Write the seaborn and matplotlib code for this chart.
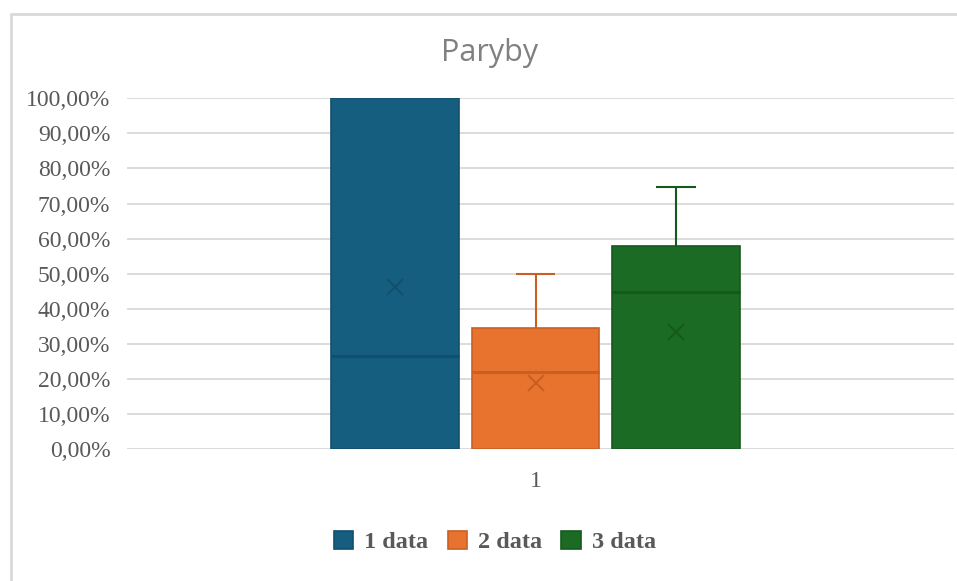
import matplotlib

matplotlib.use("Agg")
import matplotlib.pyplot as plt
import numpy as np
import pandas as pd
import seaborn as sns
from matplotlib.lines import Line2D
from matplotlib.patches import Patch
from matplotlib.ticker import FuncFormatter

# box statistics (fractions of 1)
series = ["1 data", "2 data", "3 data"]
q1 = [0.0, 0.0, 0.0]
q3 = [1.0, 0.344, 0.579]
medians = [0.265, 0.220, 0.447]
means = [0.463, 0.189, 0.333]
whisker_low = [0.0, 0.0, 0.0]
whisker_high = [1.0, 0.499, 0.748]
category = "1"

fill_colors = ["#165e80", "#e7732e", "#1c6b24"]
edge_colors = ["#124f6d", "#c95f22", "#155a1d"]

sns.set_theme(style="white")
plt.rcParams["font.family"] = ["Liberation Serif", "DejaVu Serif"]

fig = plt.figure(figsize=(9.57, 5.81), dpi=100)
ax = fig.add_axes([0.1327, 0.2272, 0.8643, 0.6036])

data = pd.DataFrame(
    {
        "group": [category] * len(series),
        "series": series,
        "height": np.array(q3) - np.array(q1),
    }
)
sns.barplot(
    data=data,
    x="group",
    y="height",
    hue="series",
    hue_order=series,
    palette=fill_colors,
    saturation=1,
    width=0.509,
    gap=0.091,
    legend=False,
    ax=ax,
)

for i, container in enumerate(ax.containers):
    bar = container[0]
    bar.set_edgecolor(edge_colors[i])
    bar.set_linewidth(1.2)
    bar.set_y(q1[i])
    x0 = bar.get_x()
    w = bar.get_width()
    xc = x0 + w / 2
    ax.hlines(medians[i], x0, x0 + w, color=edge_colors[i], lw=2.2, zorder=4)
    ax.plot(xc, means[i], marker="x", ms=12, mew=1.5, color=edge_colors[i], zorder=5)
    cap = w * 0.31
    if whisker_high[i] > q3[i]:
        ax.vlines(xc, q3[i], whisker_high[i], color=edge_colors[i], lw=1.5, zorder=1)
        ax.hlines(whisker_high[i], xc - cap / 2, xc + cap / 2, color=edge_colors[i], lw=1.5, zorder=1)
    if whisker_low[i] < q1[i]:
        ax.vlines(xc, whisker_low[i], q1[i], color=edge_colors[i], lw=1.5, zorder=1)
        ax.hlines(whisker_low[i], xc - cap / 2, xc + cap / 2, color=edge_colors[i], lw=1.5, zorder=1)

ax.set_xlim(-0.494, 0.506)
ax.set_ylim(0, 1.0)
ax.set_yticks(np.arange(0, 1.01, 0.1))
ax.yaxis.set_major_formatter(FuncFormatter(lambda v, _: f"{v * 100:.2f}%".replace(".", ",")))
ax.grid(axis="y", color="#d9d9d9", lw=1.3)
ax.set_axisbelow(True)
for spine in ax.spines.values():
    spine.set_visible(False)
ax.tick_params(axis="y", length=0, pad=12, labelsize=17, labelcolor="#595959")
ax.tick_params(axis="x", length=0, pad=16, labelsize=17, labelcolor="#595959")
ax.set_xlabel("")
ax.set_ylabel("")

fig.text(0.512, 0.909, "Paryby", ha="center", va="center", fontsize=22,
         color="#808080", family=["Open Sans", "DejaVu Sans"])

handles = [Patch(facecolor=f, edgecolor=e, lw=1.2) for f, e in zip(fill_colors, edge_colors)]
fig.legend(handles, series, loc="center", bbox_to_anchor=(0.517, 0.067), ncol=3,
           frameon=False, prop={"weight": "bold", "size": 17.5}, labelcolor="#595959",
           handlelength=0.8, handleheight=0.8, handletextpad=0.45, columnspacing=0.8)

# chart area border (left and top edges)
fig.add_artist(Line2D([0.0115, 0.0115], [0, 0.976], transform=fig.transFigure, color="#d9d9d9", lw=2))
fig.add_artist(Line2D([0.0115, 1.0], [0.976, 0.976], transform=fig.transFigure, color="#d9d9d9", lw=2))

fig.savefig("out.png", dpi=100)
